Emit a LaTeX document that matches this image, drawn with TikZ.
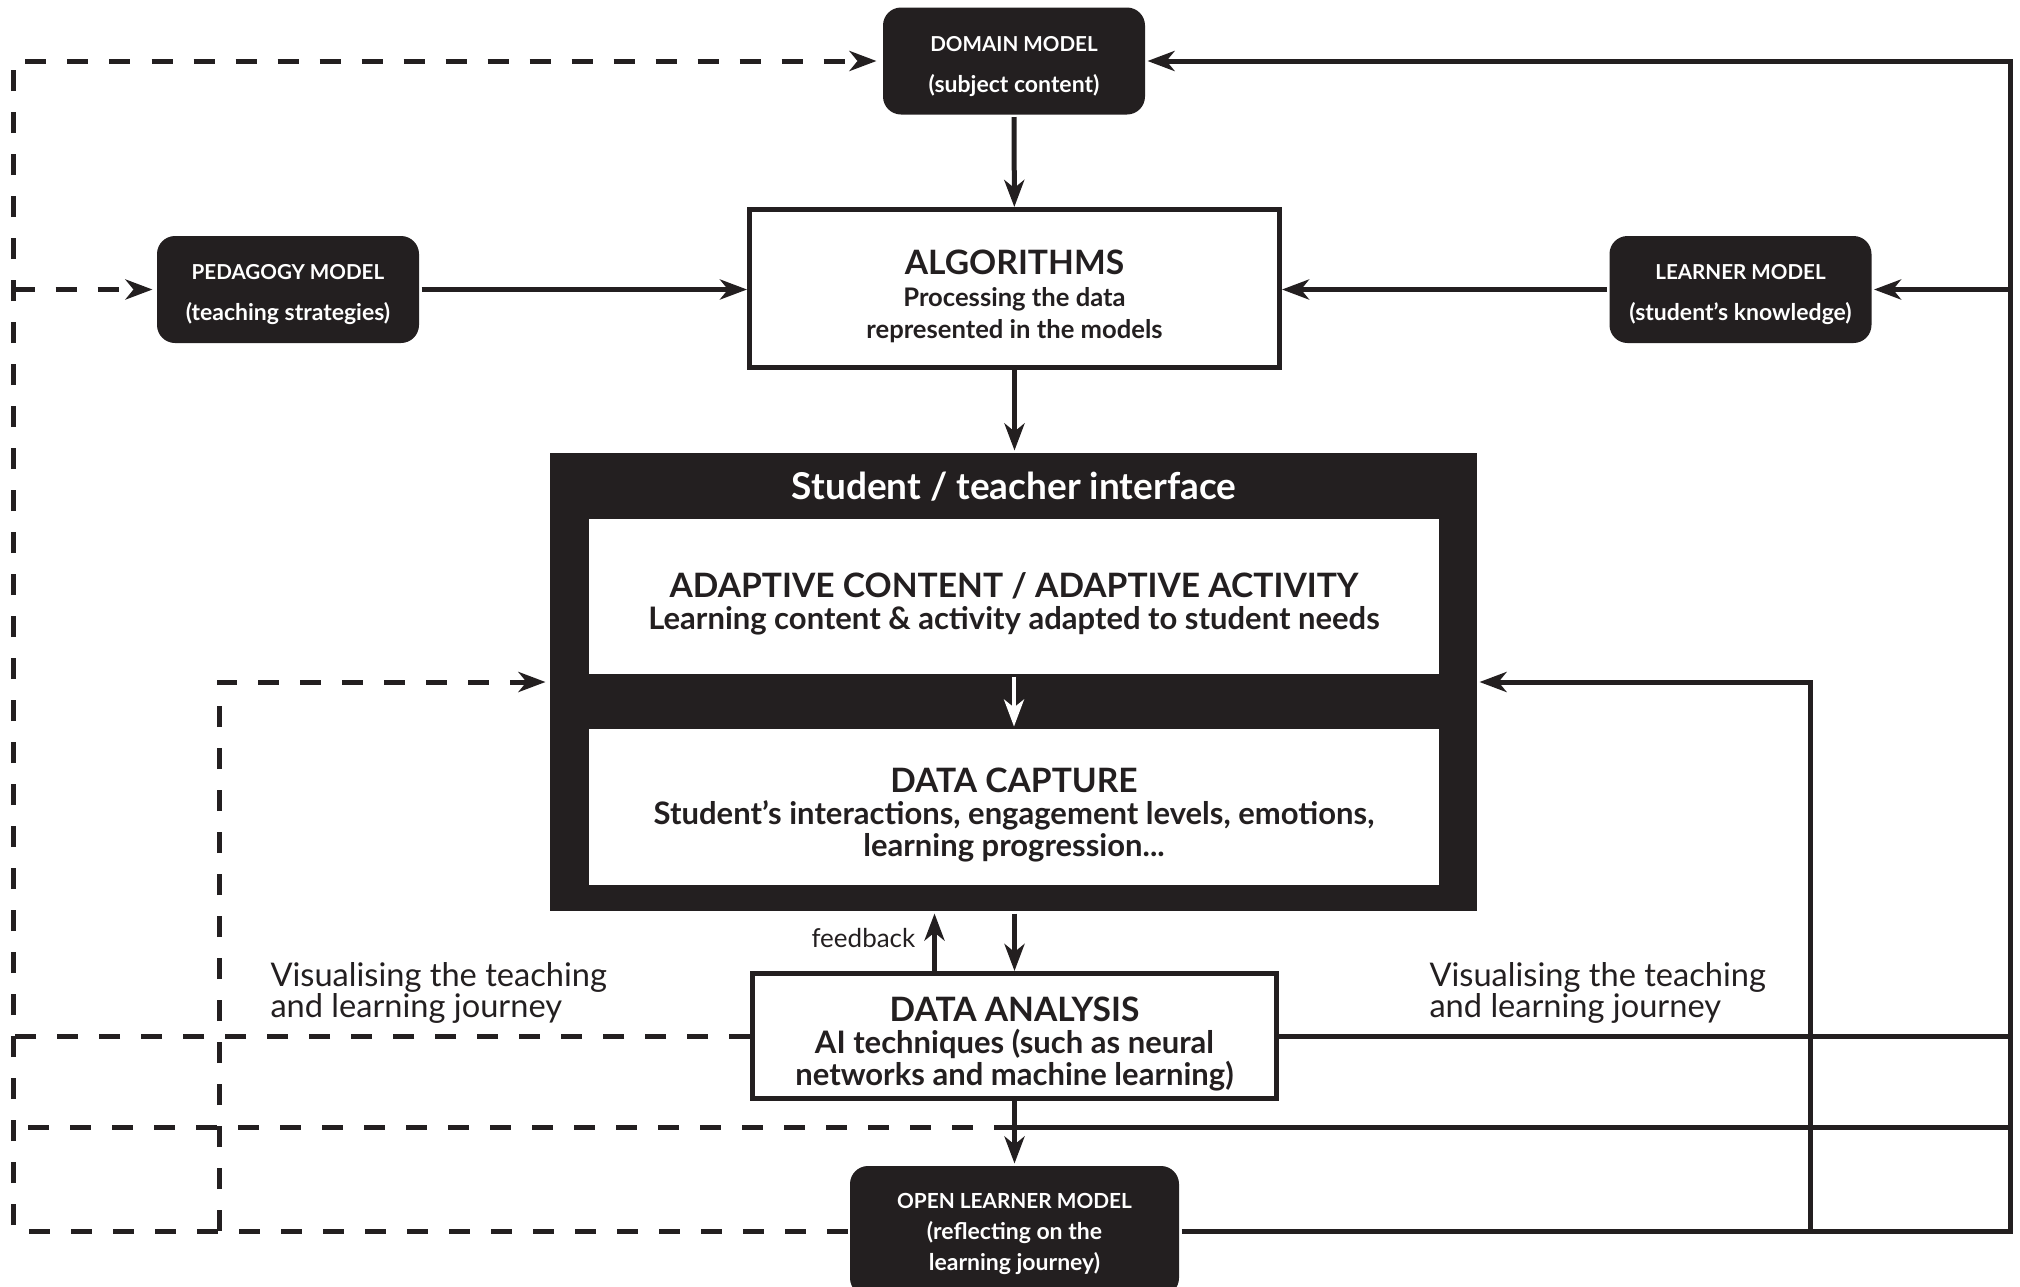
\documentclass[tikz,border=0pt]{standalone}
\usepackage{fontspec}
\setmainfont{Lato}
\usetikzlibrary{arrows.meta}
\definecolor{ink}{HTML}{231F20}
\newcommand{\ttl}[1]{{\fontsize{16.8}{20}\selectfont\rule{0pt}{20pt}#1}}
\newcommand{\mtop}[1]{{\fontsize{10.3}{20.5}\selectfont\rule{0pt}{13pt}#1}}

\begin{document}
\begin{tikzpicture}[x=0.5pt, y=-0.5pt, ink, line width=2.5pt,
  arr/.style={-{Stealth[length=13.5pt, width=10pt, inset=4pt]}},
  dsh/.style={dash pattern=on 10.5pt off 10.5pt},
  model/.style={fill=ink, text=white, rounded corners=9pt, align=center, inner sep=0pt,
    minimum width=131pt, minimum height=53.5pt, font=\bfseries\fontsize{11.5}{20.5}\selectfont},
  stage/.style={draw=ink, fill=white, align=center, inner sep=0pt,
    font=\bfseries\fontsize{15.5}{16}\selectfont},
  journey/.style={anchor=west, align=left, inner sep=0pt, font=\fontsize{16.3}{15.5}\selectfont}]
\useasboundingbox (0,0) rectangle (2020,1286);

\path (1014,61) node[model] (domain) {\mtop{DOMAIN MODEL}\\(subject content)}
      (288,289.5) node[model] (ped) {\mtop{PEDAGOGY MODEL}\\(teaching strategies)}
      (1740.5,289.5) node[model] (learner) {\mtop{LEARNER MODEL}\\(student's knowledge)}
      (1014.5,1231) node[model, minimum width=164.5pt, minimum height=65pt,
        font=\bfseries\fontsize{11.5}{15.5}\selectfont] (olm)
        {{\fontsize{10.4}{15.5}\selectfont\rule{0pt}{10.2pt}OPEN LEARNER MODEL}\\(reflecting on the\\learning journey)};

\path (1014.5,288.5) node[stage, minimum width=265pt, minimum height=79pt,
        font=\bfseries\fontsize{12.8}{16}\selectfont] (alg)
        {\ttl{ALGORITHMS}\\Processing the data\\represented in the models};

\path (1013.5,682) node[fill=ink, minimum width=463.5pt, minimum height=229pt] (iface) {}
      (1014,487) node[text=white, font=\bfseries\fontsize{18.5}{20}\selectfont] (ifacetitle) {Student / teacher interface}
      (1014,596.5) node[stage, draw=none, minimum width=425pt, minimum height=77.5pt] (adapt)
        {\ttl{ADAPTIVE CONTENT / ADAPTIVE ACTIVITY}\\Learning content \& activity adapted to student needs}
      (1014,807) node[stage, draw=none, minimum width=425pt, minimum height=78pt] (capture)
        {\ttl{DATA CAPTURE}\\Student's interactions, engagement levels, emotions,\\learning progression...};

\path (1014.5,1036) node[stage, minimum width=262pt, minimum height=62.5pt] (analysis)
        {\ttl{DATA ANALYSIS}\\AI techniques (such as neural\\networks and machine learning)};

\path (268,993) node[journey] (visleft) {Visualising the teaching\\and learning journey}
      (1427,993) node[journey] (visright) {Visualising the teaching\\and learning journey};

\coordinate (rtop) at (2010,61);
\coordinate (rbot) at (2010,1231);
\coordinate (rin) at (1810,1231);
\coordinate (ltop) at (13.5,61);
\coordinate (lbot) at (13.5,1231);
\coordinate (lin) at (219,1231);
\coordinate (split) at (1014.5,1127);

\draw[arr] (domain) -- (alg);
\draw[arr] (ped.east) -- (ped.east -| alg.west);
\draw[arr] (learner.west) -- (learner.west -| alg.east);
\draw[arr] (alg.south) -- (alg.south |- iface.north);
\draw[arr, white, line width=2pt] (adapt) -- (capture);
\draw[arr] (iface.south -| analysis.north) -- (analysis.north);
\draw[arr] ([xshift=-40pt]analysis.north) -- ([xshift=-40pt]analysis.north |- iface.south)
  node[midway, left=5pt, yshift=2pt, font=\fontsize{13}{14}\selectfont] {feedback};
\draw[arr] (analysis) -- (olm);

\draw[arr] (olm.east) -- (rbot) -- (rtop) -- (domain.east);
\draw[arr] (learner.east -| rbot) -- (learner.east);
\draw (analysis.east) -- (analysis.east -| rbot);
\draw (split) -- (split -| rbot);
\draw[arr] (rin) |- (iface.east);

\draw[dsh, arr, shorten >=2pt] (olm.west) -- (lbot) -- (ltop) -- (domain.west);
\draw[dsh, arr, shorten >=1pt] (ped.west -| lbot) -- (ped.west);
\draw[dsh, arr, shorten >=1pt] (lin) |- (iface.west);
\draw[dsh] (analysis.west) -- (analysis.west -| lbot);
\draw[dsh] (split) -- (split -| lbot);
\end{tikzpicture}
\end{document}
